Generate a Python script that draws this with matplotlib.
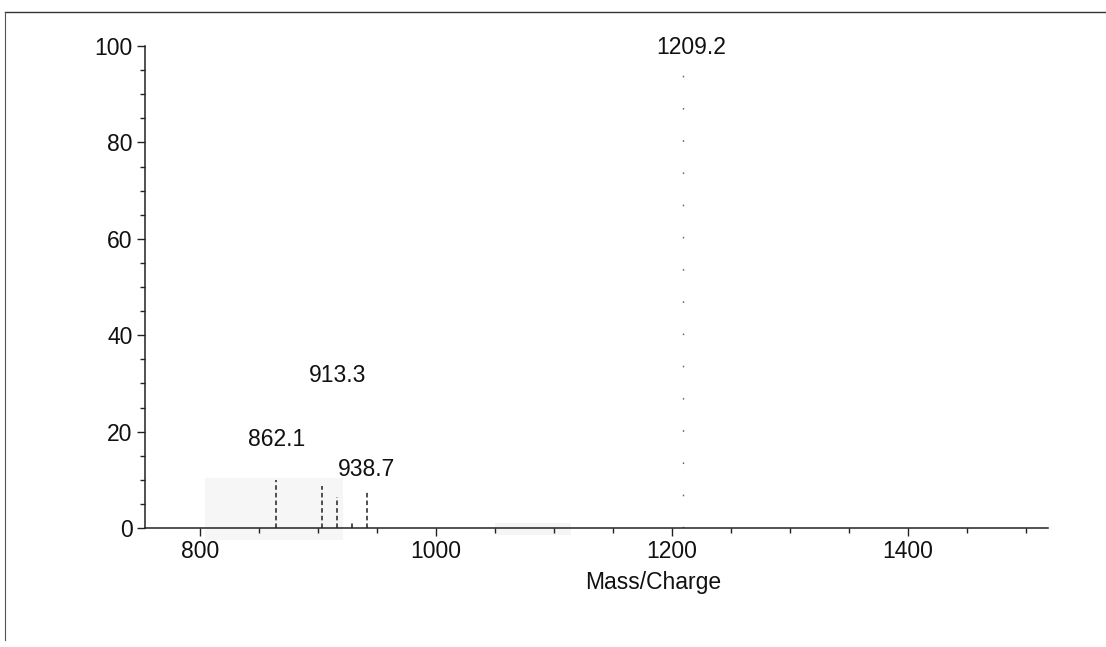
import matplotlib
matplotlib.use("Agg")
import matplotlib.pyplot as plt
from matplotlib.lines import Line2D
from matplotlib.patches import Rectangle
from matplotlib.ticker import MultipleLocator

plt.rcParams['font.family'] = ['Liberation Sans', 'DejaVu Sans']

# Peak data (m/z, relative intensity)
peak_mz = [862.1, 901.0, 913.3, 926.0, 938.7]
peak_int = [9.9, 8.7, 6.4, 1.2, 7.9]
base_mz = 1209.2
base_int = 100.0

# Peak labels (text, x, y position of label)
label_text = ["1209.2", "913.3", "862.1", "938.7"]
label_x = [1216, 917, 865, 941.5]
label_y = [99.6, 31.7, 18.4, 12.2]

x_ticks = [800, 1000, 1200, 1400]
y_ticks = [0, 20, 40, 60, 80, 100]

fig = plt.figure(figsize=(11.06, 6.47), dpi=100)
ax = fig.add_axes([145/1106, 1-528/647, 903/1106, 482/647])

ax.set_xlim(753.4, 1518.6)
ax.set_ylim(0, 100)

# faint scan artifacts
ax.add_patch(Rectangle((804, -2.5), 117, 12.9, facecolor='#f6f6f6',
                       edgecolor='none', clip_on=False, zorder=0))
ax.add_patch(Rectangle((1050, -1.5), 64, 2.5, facecolor='#f5f5f5',
                       edgecolor='none', clip_on=False, zorder=0))

# minor peaks
for mz, it in zip(peak_mz, peak_int):
    ax.vlines(mz + 2.5, 0, it, colors='#222222', linewidth=1.1,
              linestyles=(0, (3, 2)), zorder=2)

# faded base peak
ax.vlines(base_mz, 0, base_int, colors='#666666', linewidth=1.0,
          linestyles=(0, (1.2, 22)), zorder=2)

for t, x, y in zip(label_text, label_x, label_y):
    ax.text(x, y, t, ha='center', va='center', fontsize=16.5, color='#111111')

for s in ['top', 'right']:
    ax.spines[s].set_visible(False)
for s in ['left', 'bottom']:
    ax.spines[s].set_linewidth(1.1)
    ax.spines[s].set_color('#222222')

ax.set_xticks(x_ticks)
ax.set_yticks(y_ticks)
ax.xaxis.set_minor_locator(MultipleLocator(50))
ax.yaxis.set_minor_locator(MultipleLocator(5))
ax.tick_params(which='major', length=6, width=1.0, color='#222222',
               labelsize=16.5, labelcolor='#111111', pad=3)
ax.tick_params(which='minor', length=3.5, width=1.0, color='#222222')

ax.text(0.5626, -0.114, "Mass/Charge", transform=ax.transAxes,
        ha='center', va='center', fontsize=16.5, color='#111111')

# scanned page border lines
fig.add_artist(Line2D([5/1106, 1.0], [1-12/647, 1-12/647], color='#333333',
                      linewidth=1.0, transform=fig.transFigure))
fig.add_artist(Line2D([5/1106, 5/1106], [1-12/647, 1-640/647], color='#555555',
                      linewidth=0.8, transform=fig.transFigure))

fig.savefig("out.png", dpi=100)
